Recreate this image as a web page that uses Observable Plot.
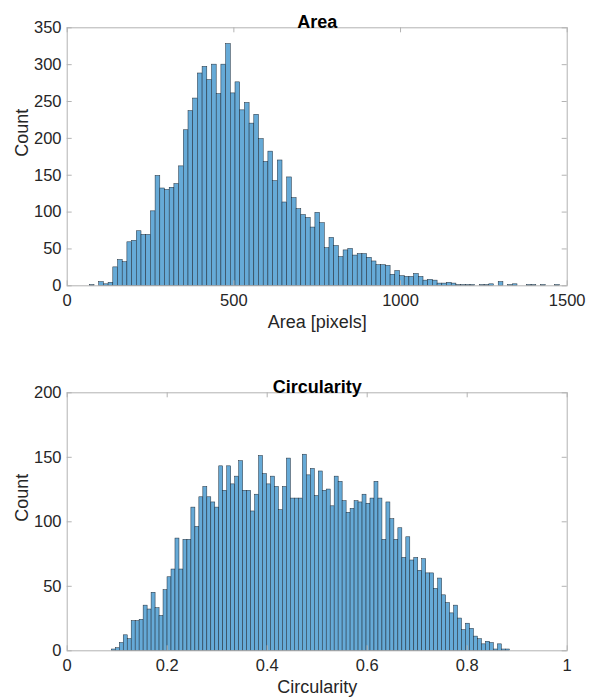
<!DOCTYPE html>
<html><head><meta charset="utf-8">
<script src="https://cdn.jsdelivr.net/npm/d3@7"></script>
<script src="https://cdn.jsdelivr.net/npm/@observablehq/plot@0.6"></script>
<style>body{margin:0;background:#fff;} svg{display:block;}</style>
</head><body><div id="chart"></div>
<script>
// ---- Area histogram (100 bins) ----
const areaCounts = [1,0,5,2,4,25,35,32,59,61,
  74,69,69,101,149,132,130,133,138,162,
  211,237,254,288,297,279,300,260,300,328,
  261,276,238,248,220,232,199,168,182,142,
  170,113,147,119,104,96,92,79,99,85,
  51,65,54,39,48,50,41,43,43,38,
  33,28,28,27,15,20,13,12,12,16,
  12,7,8,7,3,3,4,3,1,1,
  1,1,0,1,1,2,0,5,0,1,
  2,0,0,1,1,0,1,0,0,1];
const areaFirstEdge = 67.8;
const areaBinWidth = 14.1;
const areaXTicks = [0, 500, 1000, 1500];
const areaYTicks = [0, 50, 100, 150, 200, 250, 300, 350];

// ---- Circularity histogram (100 bins) ----
const circCounts = [1,2,6,12,9,23,23,24,35,32,
  45,33,27,47,57,63,87,63,86,86,
  111,96,119,127,119,115,111,143,124,143,
  129,135,147,124,124,108,121,151,137,129,
  135,127,109,127,149,118,118,118,152,136,
  141,120,139,124,125,112,135,131,116,107,
  110,116,115,121,114,118,131,118,86,115,
  102,86,95,72,88,70,72,62,71,60,
  60,48,56,43,37,29,35,25,16,21,
  17,11,9,5,7,6,1,5,1,1];
const circFirstEdge = 0.0892;
const circBinWidth = 0.00796;
const circXTicks = [0, 0.2, 0.4, 0.6, 0.8, 1];
const circYTicks = [0, 50, 100, 150, 200];

function bins(counts, first, w) {
  return counts.map((c, i) => ({x1: first + i * w, x2: first + (i + 1) * w, count: c}));
}

function hist({counts, first, w, xDomain, yDomain, xTicks, yTicks, title, xLabel, marginTop, marginBottom, height}) {
  const W = 592, ml = 66.7, mr = 25.3;
  const plotW = W - ml - mr, plotH = height - marginTop - marginBottom;
  const tk = 5, axisColor = "#b3b3b3";
  return Plot.plot({
    width: W, height, marginLeft: ml, marginRight: mr, marginTop, marginBottom,
    style: {fontFamily: "'Liberation Sans', Arial, sans-serif", fontSize: "16.5px", color: "#262626", background: "#fff"},
    x: {domain: xDomain},
    y: {domain: yDomain},
    marks: [
      Plot.rectY(bins(counts, first, w), {x1: "x1", x2: "x2", y: "count", fill: "#66aad7", stroke: "#1e2a36", strokeWidth: 0.5}),
      Plot.frame({stroke: axisColor}),
      Plot.tickX(xTicks, {x: d => d, stroke: axisColor, insetTop: plotH - tk}),
      Plot.tickX(xTicks, {x: d => d, stroke: axisColor, insetBottom: plotH - tk}),
      Plot.tickY(yTicks, {y: d => d, stroke: axisColor, insetRight: plotW - tk}),
      Plot.tickY(yTicks, {y: d => d, stroke: axisColor, insetLeft: plotW - tk}),
      Plot.axisX(xTicks, {tickSize: 0, tickPadding: 8, tickFormat: d => String(d), label: null}),
      Plot.axisY(yTicks, {tickSize: 0, tickPadding: 5.7, tickFormat: d => String(d), label: null}),
      Plot.text([title], {frameAnchor: "top", dy: -13, fontSize: 18, fontWeight: "bold", fill: "#000"}),
      Plot.text([xLabel], {frameAnchor: "bottom", dy: 42, fontSize: 18, fill: "#262626"}),
      Plot.text(["Count"], {frameAnchor: "left", dx: -44.7, rotate: -90, fontSize: 18, fill: "#262626"})
    ]
  });
}

const root = document.getElementById("chart");
root.append(hist({
  counts: areaCounts, first: areaFirstEdge, w: areaBinWidth,
  xDomain: [0, 1500], yDomain: [0, 350], xTicks: areaXTicks, yTicks: areaYTicks,
  title: "Area", xLabel: "Area [pixels]",
  marginTop: 27.3, marginBottom: 63.7, height: 349
}));
root.append(hist({
  counts: circCounts, first: circFirstEdge, w: circBinWidth,
  xDomain: [0, 1], yDomain: [0, 200], xTicks: circXTicks, yTicks: circYTicks,
  title: "Circularity", xLabel: "Circularity",
  marginTop: 43.3, marginBottom: 47.7, height: 349
}));
</script>
</body></html>
